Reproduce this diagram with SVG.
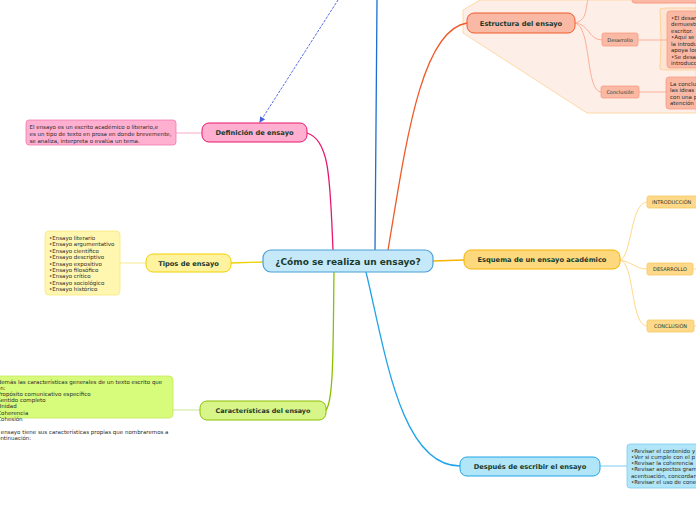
<svg xmlns="http://www.w3.org/2000/svg" width="696" height="520" viewBox="0 0 696 520">
<style>
.t{font-family:"DejaVu Sans",Verdana,sans-serif;fill:#1a3a2e}
.b{font-weight:bold}
.m{font-size:6.7px}
.s{font-size:5.5px;fill:#2a2a2a}
.c{fill:none;stroke-linecap:round}
</style>
<defs>
<marker id="ah" markerWidth="6" markerHeight="6" refX="5" refY="3" orient="auto" markerUnits="userSpaceOnUse">
<path d="M0,0 L6,3 L0,6 z" fill="#4a5fe0"/>
</marker>
</defs>
<rect width="696" height="520" fill="#ffffff"/>
<!-- boundary -->
<path d="M480,0 L463,10 L463,33 L587,113 L696,113 L696,0 Z" fill="#fdeee8" stroke="#fdd9a8" stroke-width="1"/>
<path d="M660,9 Q663,8 668,8 L696,8 L696,70 L668,70 Q663,70 660,69 Q662,40 660,9 Z" fill="#fde5d5" stroke="#fdd29a" stroke-width="1"/>
<g id="connectors">
<path class="c" d="M333,250 C330,180 330,140 307,133" stroke="#e8176c" stroke-width="1.3"/>
<path class="c" d="M263,262 L231,263" stroke="#f0d000" stroke-width="1.3"/>
<path class="c" d="M334,272 C333,340 334,400 326,410" stroke="#8ac000" stroke-width="1.3"/>
<path class="c" d="M388,250 C405,150 420,30 467,23" stroke="#f05a28" stroke-width="1.3"/>
<path class="c" d="M375,250 L377,0" stroke="#1a6fd0" stroke-width="1.3"/>
<path class="c" d="M433,261 L464,260" stroke="#f5b400" stroke-width="1.3"/>
<path class="c" d="M366,272 C385,350 400,466 460,466" stroke="#20a4e8" stroke-width="1.3"/>
<path class="c" d="M338,0 L260,122" stroke="#5b6ee8" stroke-width="1" stroke-dasharray="2,2" marker-end="url(#ah)"/>
<path class="c" d="M176,133 L202,133" stroke="#f7a8cc" stroke-width="1"/>
<path class="c" d="M120,263 L146,263" stroke="#f8ea90" stroke-width="1"/>
<path class="c" d="M173,410 L200,410" stroke="#c8e890" stroke-width="1"/>
<path class="c" d="M600,466 L627,466" stroke="#7cccf0" stroke-width="1"/>
<path class="c" d="M620,260 C632,258 630,202 647,202" stroke="#ffd98a" stroke-width="1"/>
<path class="c" d="M620,260 C632,262 636,269 647,269" stroke="#ffd98a" stroke-width="1"/>
<path class="c" d="M620,260 C635,262 630,326 647,326" stroke="#ffd98a" stroke-width="1"/>
<path class="c" d="M575,23 C588,20 585,8 588,0" stroke="#fbb098" stroke-width="1"/>
<path class="c" d="M575,23 C590,24 588,40 602,40" stroke="#fbb098" stroke-width="1"/>
<path class="c" d="M575,23 C592,26 585,92 601,92" stroke="#fbb098" stroke-width="1"/>
<path class="c" d="M638,40 L667,40" stroke="#fbb098" stroke-width="1"/>
<path class="c" d="M639,92 L666,92" stroke="#fbb098" stroke-width="1"/>
<path class="c" d="M693,269 L696,269" stroke="#ffd98a" stroke-width="1"/>
<path class="c" d="M694,326 L696,326" stroke="#ffd98a" stroke-width="1"/>
</g>
<g id="central">
<rect x="263" y="250" width="170" height="22" rx="8" fill="#c6e9f9" stroke="#4a9fd8" stroke-width="1.2"/>
<text class="t b" x="348" y="264.5" font-size="9" text-anchor="middle" fill="#0e3a4a">¿Cómo se realiza un ensayo?</text>
</g>
<g id="estructura">
<rect x="467" y="13" width="108" height="20" rx="7" fill="#f9b9a4" stroke="#f05a28" stroke-width="1"/>
<text class="t b m" x="521" y="25.5" text-anchor="middle">Estructura del ensayo</text>
</g>
<g id="top-node">
<rect x="632" y="-20" width="80" height="23" rx="3" fill="#f9b9a4" stroke="#fb9a80" stroke-width="1"/>
</g>
<g id="desarrollo-e">
<rect x="602" y="33" width="36" height="13" rx="2" fill="#f9b9a4" stroke="#fb9a80" stroke-width="0.8"/>
<text class="t" x="620" y="41.8" font-size="5" text-anchor="middle" fill="#3a2a20">Desarrollo</text>
</g>
<g id="desarrollo-text">
<rect x="667" y="11" width="40" height="57" rx="3" fill="#f9b9a4" stroke="#fb9a80" stroke-width="0.8"/>
<text class="t s" x="671" y="19.5">•El desarrollo</text>
<text class="t s" x="671" y="26">demuestra</text>
<text class="t s" x="671" y="32.5">escritor.</text>
<text class="t s" x="671" y="39">•Aquí se</text>
<text class="t s" x="671" y="45.5">la introducción</text>
<text class="t s" x="671" y="52">apoya los</text>
<text class="t s" x="671" y="58.5">•Se desarrolla</text>
<text class="t s" x="671" y="65">introducción</text>
</g>
<g id="conclusion-e">
<rect x="601" y="86" width="38" height="12" rx="2" fill="#f9b9a4" stroke="#fb9a80" stroke-width="0.8"/>
<text class="t" x="620" y="94.2" font-size="5" text-anchor="middle" fill="#3a2a20">Conclusión</text>
</g>
<g id="conclusion-text">
<rect x="666" y="77" width="40" height="32" rx="3" fill="#f9b9a4" stroke="#fb9a80" stroke-width="0.8"/>
<text class="t s" x="670" y="85.5">La conclusión</text>
<text class="t s" x="670" y="92">las ideas</text>
<text class="t s" x="670" y="98.5">con una p</text>
<text class="t s" x="670" y="105">atención</text>
</g>
<g id="definicion">
<rect x="202" y="123" width="105" height="19" rx="7" fill="#ffb0d0" stroke="#e8176c" stroke-width="1"/>
<text class="t b m" x="254.5" y="135.3" text-anchor="middle">Definición de ensayo</text>
</g>
<g id="definicion-text">
<rect x="26" y="120" width="150" height="25" rx="3" fill="#ffb0d0" stroke="#f07ab0" stroke-width="0.8"/>
<text class="t s" x="29.5" y="128.5">El ensayo es un escrito académico o literario,e</text>
<text class="t s" x="29.5" y="135.5">es un tipo de texto en prosa en donde brevemente,</text>
<text class="t s" x="29.5" y="142.5">se analiza, interpreta o evalúa un tema.</text>
</g>
<g id="tipos">
<rect x="146" y="254" width="85" height="18" rx="7" fill="#fff3a0" stroke="#f0d000" stroke-width="1"/>
<text class="t b m" x="188.5" y="265.8" text-anchor="middle">Tipos de ensayo</text>
</g>
<g id="tipos-list">
<rect x="45" y="231" width="75" height="64" rx="4" fill="#fff6b0" stroke="#f8e87a" stroke-width="0.8"/>
<text class="t s" x="49" y="240">•Ensayo literario</text>
<text class="t s" x="49" y="246.4">•Ensayo argumentativo</text>
<text class="t s" x="49" y="252.8">•Ensayo científico</text>
<text class="t s" x="49" y="259.2">•Ensayo descriptivo</text>
<text class="t s" x="49" y="265.6">•Ensayo expositivo</text>
<text class="t s" x="49" y="272">•Ensayo filosófico</text>
<text class="t s" x="49" y="278.4">•Ensayo crítico</text>
<text class="t s" x="49" y="284.8">•Ensayo sociológico</text>
<text class="t s" x="49" y="291.2">•Ensayo histórico</text>
</g>
<g id="caracteristicas">
<rect x="200" y="401" width="126" height="19" rx="7" fill="#d8f58a" stroke="#8ac000" stroke-width="1"/>
<text class="t b" x="263" y="413.3" font-size="6.4" text-anchor="middle">Características del ensayo</text>
</g>
<g id="caracteristicas-text">
<rect x="-10" y="376" width="183" height="42" rx="4" fill="#d7fb7a" stroke="#c8ea60" stroke-width="0.8"/>
<text class="t s" x="-6" y="383.5">Además las características generales de un texto escrito que</text>
<text class="t s" x="-6" y="389.5">son:</text>
<text class="t s" x="-6" y="395.8">•Propósito comunicativo específico</text>
<text class="t s" x="-6" y="402">•Sentido completo</text>
<text class="t s" x="-6" y="408.3">•Unidad</text>
<text class="t s" x="-6" y="414.5">•Coherencia</text>
<text class="t s" x="-6" y="420.8">•Cohesión</text>
<text class="t s" x="-6" y="433.5">El ensayo tiene sus características propias que nombraremos a</text>
<text class="t s" x="-6" y="440">continuación:</text>
</g>
<g id="esquema">
<rect x="464" y="250" width="156" height="19" rx="7" fill="#fdd87c" stroke="#f5b400" stroke-width="1"/>
<text class="t b m" x="542" y="262.3" text-anchor="middle">Esquema de un ensayo académico</text>
</g>
<g id="introduccion">
<rect x="647" y="196" width="60" height="12" rx="2" fill="#ffd98a" stroke="#f8c860" stroke-width="0.8"/>
<text class="t" x="652" y="204.2" font-size="5" fill="#3a3020">INTRODUCCIÓN</text>
</g>
<g id="desarrollo-s">
<rect x="647" y="263" width="46" height="12" rx="2" fill="#ffd98a" stroke="#f8c860" stroke-width="0.8"/>
<text class="t" x="670" y="271.2" font-size="5" text-anchor="middle" fill="#3a3020">DESARROLLO</text>
</g>
<g id="conclusion-s">
<rect x="647" y="320" width="47" height="12" rx="2" fill="#ffd98a" stroke="#f8c860" stroke-width="0.8"/>
<text class="t" x="670.5" y="328.2" font-size="5" text-anchor="middle" fill="#3a3020">CONCLUSIÓN</text>
</g>
<g id="despues">
<rect x="460" y="457" width="140" height="19" rx="7" fill="#b0e6f8" stroke="#20a4e8" stroke-width="1"/>
<text class="t b m" x="530" y="469.3" text-anchor="middle">Después de escribir el ensayo</text>
</g>
<g id="despues-text">
<rect x="627" y="444" width="80" height="44" rx="3" fill="#b0e6f8" stroke="#7cccf0" stroke-width="0.8"/>
<text class="t s" x="631" y="452.5">•Revisar el contenido y</text>
<text class="t s" x="631" y="458.8">•Ver si  cumple con el p</text>
<text class="t s" x="631" y="465.1">•Revisar la  coherencia</text>
<text class="t s" x="631" y="471.4">•Revisar aspectos gram</text>
<text class="t s" x="631" y="477.7">acentuación, concordan</text>
<text class="t s" x="631" y="484">•Revisar el uso de cone</text>
</g>
</svg>
